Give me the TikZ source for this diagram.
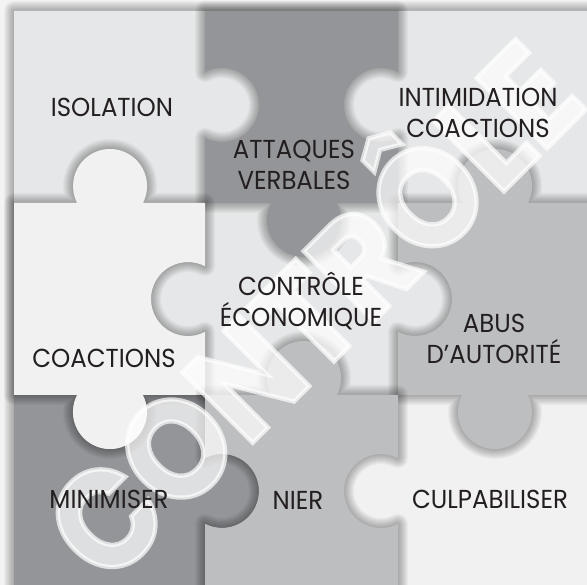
\documentclass[tikz,border=0pt]{standalone}
\usepackage{fontspec}
\setmainfont{Poppins}[FakeStretch=0.94]
\newfontfamily\stampfont{Poppins}[FakeStretch=0.9,BoldFeatures={FakeBold=3}]
\begin{document}
\definecolor{bgcol}{HTML}{F3F3F3}
\definecolor{gLight}{HTML}{E6E7E8}
\definecolor{gPale}{HTML}{F1F1F2}
\definecolor{gMid}{HTML}{BCBEC0}
\definecolor{gDark}{HTML}{939598}
\definecolor{ink}{HTML}{231F20}
% piece outlines (1 unit = 1pt, y grows upward)
\def\pAA{(14,-203) -- (77.1,-203) arc[start angle=207.36,end angle=-27.36,radius=37] -- (205,-203) -- (205,-137.9) arc[start angle=-117.36,end angle=117.36,radius=37] -- (205,-11) -- (14,-11) -- cycle}
\def\pAB{(205,-203) -- (271.1,-203) arc[start angle=-207.36,end angle=27.36,radius=37] -- (398,-203) -- (398,-137.9) arc[start angle=297.36,end angle=62.64,radius=37] -- (398,-11) -- (205,-11) -- (205,-72.1) arc[start angle=117.36,end angle=-117.36,radius=37] -- cycle}
\def\pAC{(398,-203) -- (462.1,-203) arc[start angle=207.36,end angle=-27.36,radius=37] -- (600,-203) -- (600,-11) -- (398,-11) -- (398,-72.1) arc[start angle=62.64,end angle=297.36,radius=37] -- cycle}
\def\pBA{(14,-395) -- (77.1,-395) arc[start angle=-207.36,end angle=27.36,radius=37] -- (205,-395) -- (205,-331.9) arc[start angle=297.36,end angle=62.64,radius=37] -- (205,-203) -- (142.9,-203) arc[start angle=-27.36,end angle=207.36,radius=37] -- (14,-203) -- cycle}
\def\pBB{(205,-395) -- (271.1,-395) arc[start angle=207.36,end angle=-27.36,radius=37] -- (398,-395) -- (398,-331.9) arc[start angle=-117.36,end angle=117.36,radius=37] -- (398,-203) -- (336.9,-203) arc[start angle=27.36,end angle=-207.36,radius=37] -- (205,-203) -- (205,-266.1) arc[start angle=62.64,end angle=297.36,radius=37] -- cycle}
\def\pBC{(398,-395) -- (462.1,-395) arc[start angle=-207.36,end angle=27.36,radius=37] -- (600,-395) -- (600,-203) -- (527.9,-203) arc[start angle=-27.36,end angle=207.36,radius=37] -- (398,-203) -- (398,-266.1) arc[start angle=117.36,end angle=-117.36,radius=37] -- cycle}
\def\pCA{(14,-600) -- (205,-600) -- (205,-523.9) arc[start angle=-117.36,end angle=117.36,radius=37] -- (205,-395) -- (142.9,-395) arc[start angle=27.36,end angle=-207.36,radius=37] -- (14,-395) -- cycle}
\def\pCB{(205,-600) -- (398,-600) -- (398,-523.9) arc[start angle=297.36,end angle=62.64,radius=37] -- (398,-395) -- (336.9,-395) arc[start angle=-27.36,end angle=207.36,radius=37] -- (205,-395) -- (205,-458.1) arc[start angle=117.36,end angle=-117.36,radius=37] -- cycle}
\def\pCC{(398,-600) -- (600,-600) -- (600,-395) -- (527.9,-395) arc[start angle=27.36,end angle=-207.36,radius=37] -- (398,-395) -- (398,-458.1) arc[start angle=62.64,end angle=297.36,radius=37] -- cycle}
\def\pAll{(14,-11) rectangle (600,-600)}
% soft shadow around a closed outline
\newcommand\softshadow[1]{%
  \foreach \w in {2,4,...,20}{\draw[black,opacity=0.03,line width=\w pt,line join=round] #1;}}
\begin{tikzpicture}[x=1pt,y=1pt,
  lbl/.style={text=ink,font=\fontsize{26}{31}\selectfont,align=center,inner sep=0pt,anchor=base},
  stamp/.style={text=white,text opacity=0.7,font=\stampfont\bfseries\fontsize{142}{142}\selectfont,inner sep=0pt,rotate=45}]
\useasboundingbox (0,0) rectangle (587,-585);
\fill[bgcol] (0,0) rectangle (587,-585);
\begin{scope}
\clip (0,0) rectangle (587,-585);
% frame shadow and the lower layer of pieces
\softshadow{\pAll}
\fill[gLight] \pAA;
\fill[gLight] \pAC;
\fill[gLight] \pBB;
\fill[gDark] \pCA;
\fill[gPale] \pCC;
% upper layer of pieces, each casting a soft shadow
\softshadow{\pAB}
\fill[gDark] \pAB;
\softshadow{\pBA}
\fill[gPale] \pBA;
\softshadow{\pBC}
\fill[gMid] \pBC;
\softshadow{\pCB}
\fill[gMid] \pCB;
% diagonal stamp
\node[stamp] (stamp) at (302,-300) {CONTRÔLE};
\end{scope}
% labels (anchored at the baseline of their last line)
\node[lbl] (isolation) at (112,-117) {ISOLATION};
\node[lbl] (attaques) at (294,-189.5) {ATTAQUES\\VERBALES};
\node[lbl] (intimidation) at (478,-138) {INTIMIDATION\\COACTIONS};
\node[lbl] (controle) at (301,-327) {CONTRÔLE\\ÉCONOMIQUE};
\node[lbl] (abus) at (494,-364) {ABUS\\D’AUTORITÉ};
\node[lbl] (coactions) at (104,-368) {COACTIONS};
\node[lbl] (minimiser) at (109,-508) {MINIMISER};
\node[lbl] (nier) at (298,-510) {NIER};
\node[lbl] (culpabiliser) at (490,-508) {CULPABILISER};
\end{tikzpicture}
\end{document}
